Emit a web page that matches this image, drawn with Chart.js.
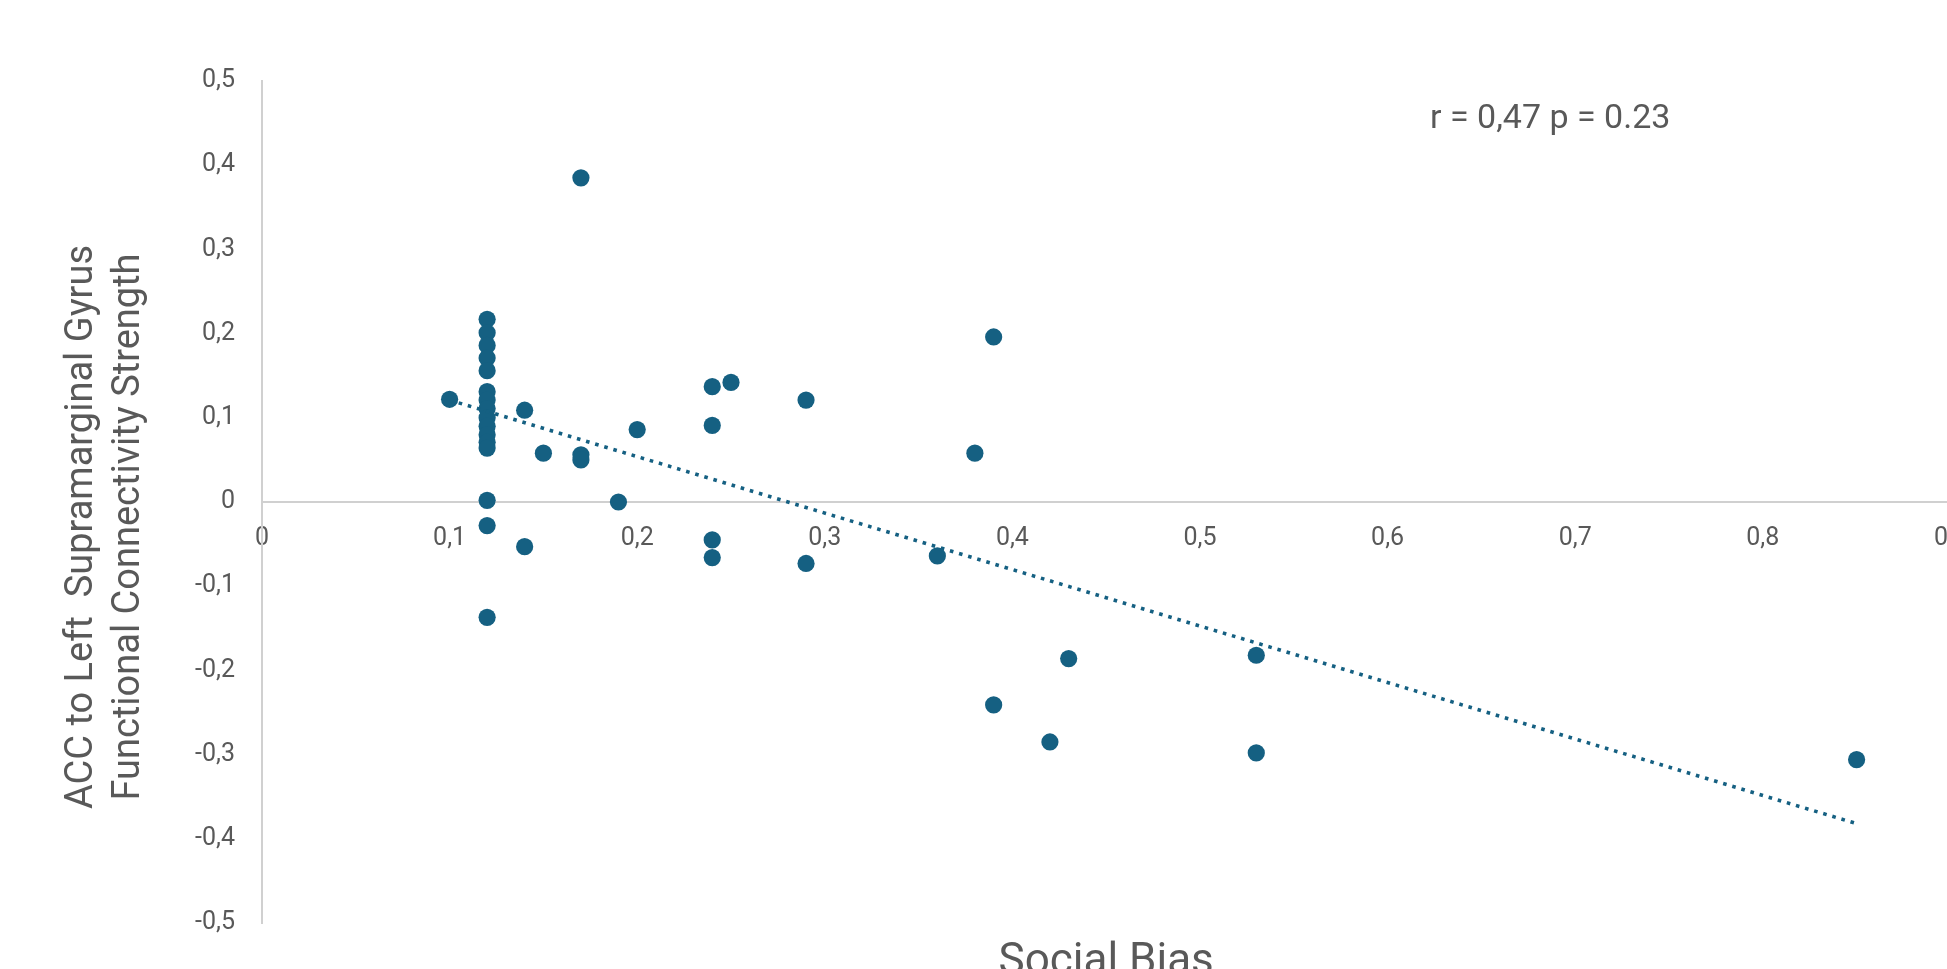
<!DOCTYPE html>
<html>
<head>
<meta charset="utf-8">
<script src="https://cdn.jsdelivr.net/npm/chart.js@4/dist/chart.umd.min.js"></script>
<style>
  html, body { margin: 0; padding: 0; background: #ffffff; overflow: hidden; }
  #wrap { position: absolute; left: 0; top: 0; width: 1990px; height: 1010px; }
</style>
</head>
<body>
<div id="wrap"><canvas id="chart" width="1990" height="1010"></canvas></div>
<script>
// Social bias score (x) and ACC – left supramarginal gyrus connectivity (y), one entry per participant
const socialBias = [
  0.10,
  0.12, 0.12, 0.12, 0.12, 0.12, 0.12, 0.12, 0.12, 0.12, 0.12, 0.12, 0.12, 0.12, 0.12, 0.12, 0.12,
  0.14, 0.14, 0.15, 0.17, 0.17, 0.17, 0.19, 0.20,
  0.24, 0.24, 0.24, 0.24, 0.25, 0.29, 0.29,
  0.36, 0.38, 0.39, 0.39, 0.42, 0.43, 0.53, 0.53, 0.85
];
const connectivity = [
  0.122,
  0.217, 0.201, 0.186, 0.171, 0.156, 0.131, 0.121, 0.111, 0.100, 0.090, 0.080, 0.071, 0.064, 0.002, -0.028, -0.137,
  0.109, -0.053, 0.058, 0.385, 0.056, 0.050, 0.000, 0.086,
  0.137, 0.091, -0.045, -0.066, 0.142, 0.121, -0.073,
  -0.064, 0.058, 0.196, -0.241, -0.285, -0.186, -0.182, -0.298, -0.306
];

// Linear trendline end points
const trendX = [0.10, 0.85];
const trendY = [0.121, -0.382];

// Axis ticks
const xTickValues = [0, 0.1, 0.2, 0.3, 0.4, 0.5, 0.6, 0.7, 0.8, 0.9];
const xTickLabels = ['0', '0,1', '0,2', '0,3', '0,4', '0,5', '0,6', '0,7', '0,8', '0,9'];
const yTickValues = [0.5, 0.4, 0.3, 0.2, 0.1, 0, -0.1, -0.2, -0.3, -0.4, -0.5];
const yTickLabels = ['0,5', '0,4', '0,3', '0,2', '0,1', '0', '-0,1', '-0,2', '-0,3', '-0,4', '-0,5'];

// Texts
const xTitle = 'Social Bias';
const yTitleLines = ['ACC to Left  Supramarginal Gyrus', 'Functional Connectivity Strength'];
const statsNote = 'r = 0,47 p = 0.23';

const markColor = '#156082';
const textColor = '#595959';
const axisColor = '#d0d0d0';

const points = socialBias.map((x, i) => ({ x: x, y: connectivity[i] }));
const trendPoints = trendX.map((x, i) => ({ x: x, y: trendY[i] }));

const titlesPlugin = {
  id: 'titles',
  afterDraw(chart) {
    const ctx = chart.ctx;
    const area = chart.chartArea;
    ctx.save();
    ctx.fillStyle = textColor;

    // x axis title below the plot
    ctx.font = '44px Roboto';
    ctx.textAlign = 'center';
    ctx.textBaseline = 'alphabetic';
    ctx.fillText(xTitle, (area.left + area.right) / 2, area.bottom + 51);

    // statistics note, upper right
    ctx.font = '34px Roboto';
    ctx.textAlign = 'left';
    ctx.fillText(statsNote, 1430, 128);

    // rotated two-line y axis title
    ctx.translate(0, (area.top + area.bottom) / 2 + 25);
    ctx.rotate(-Math.PI / 2);
    ctx.font = '38px Roboto';
    ctx.textAlign = 'center';
    yTitleLines.forEach((line, i) => ctx.fillText(line, 0, 92 + i * 47));
    ctx.restore();
  }
};

new Chart(document.getElementById('chart'), {
  type: 'scatter',
  data: {
    datasets: [
      {
        type: 'line',
        data: trendPoints,
        borderColor: markColor,
        borderWidth: 3.6,
        borderDash: [3.6, 5.9],
        borderCapStyle: 'butt',
        pointRadius: 0,
        fill: false,
        order: 0
      },
      {
        data: points,
        backgroundColor: markColor,
        borderWidth: 0,
        pointRadius: 8.6,
        pointHoverRadius: 8.6,
        order: 1
      }
    ]
  },
  options: {
    responsive: false,
    animation: false,
    devicePixelRatio: 1,
    layout: { padding: { left: 0, top: 81, right: 39.6, bottom: 87 } },
    plugins: { legend: { display: false }, tooltip: { enabled: false } },
    scales: {
      x: {
        type: 'linear',
        position: { y: 0 },
        min: 0,
        max: 0.9,
        afterFit(scale) { scale.height = 0; },
        afterBuildTicks(scale) { scale.ticks = xTickValues.map(v => ({ value: v })); },
        grid: { display: false, drawTicks: false },
        border: { display: true, color: axisColor, width: 2 },
        ticks: {
          autoSkip: false,
          maxRotation: 0,
          padding: 22,
          color: textColor,
          font: { family: 'Roboto', size: 25 },
          callback: (v, i) => xTickLabels[i]
        }
      },
      y: {
        type: 'linear',
        position: 'left',
        min: -0.5,
        max: 0.5,
        afterFit(scale) { scale.width = 262; },
        afterBuildTicks(scale) { scale.ticks = yTickValues.slice().reverse().map(v => ({ value: v })); },
        grid: { display: false, drawTicks: false },
        border: { display: true, color: axisColor, width: 2 },
        ticks: {
          autoSkip: false,
          padding: 27,
          color: textColor,
          font: { family: 'Roboto', size: 25 },
          callback: (v, i) => yTickLabels[yTickLabels.length - 1 - i]
        }
      }
    }
  },
  plugins: [titlesPlugin]
});
</script>
</body>
</html>
